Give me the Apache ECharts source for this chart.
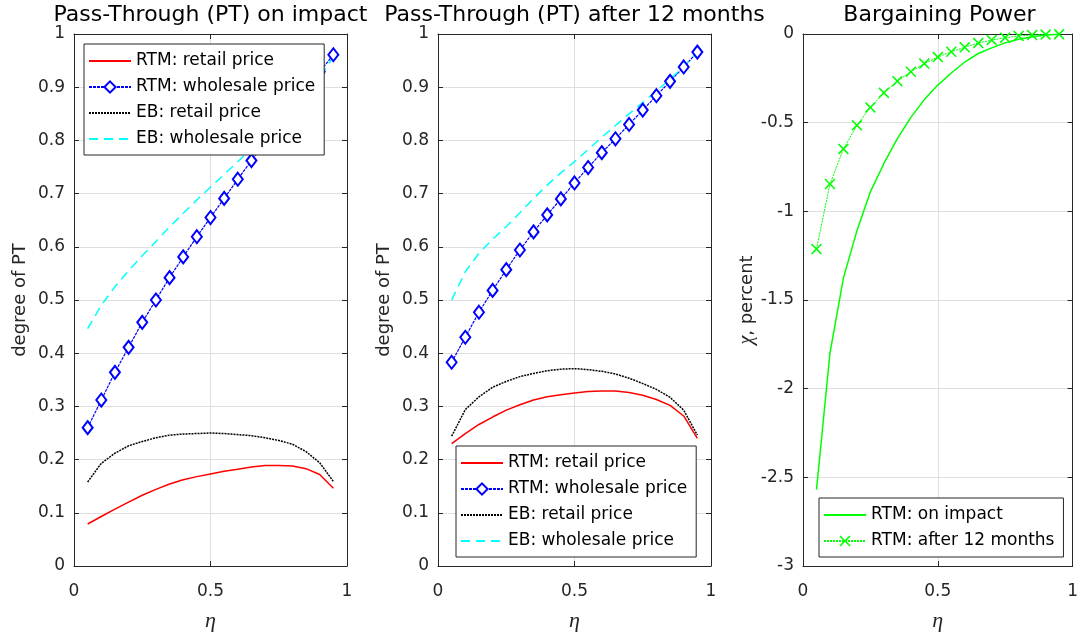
<!DOCTYPE html>
<html>
<head>
<meta charset="utf-8">
<title>Pass-Through and Bargaining Power</title>
<script src="https://cdn.jsdelivr.net/npm/echarts@6/dist/echarts.min.js"></script>
<style>
  html, body { margin: 0; padding: 0; background: #fff; }
  #chart { width: 1081px; height: 637px; }
</style>
</head>
<body>
<div id="chart"></div>
<script>
// eta grid (x values)
var eta = [0.05, 0.1, 0.15, 0.2, 0.25, 0.3, 0.35, 0.4, 0.45, 0.5,
  0.55, 0.6, 0.65, 0.7, 0.75, 0.8, 0.85, 0.9, 0.95]

// pass-through on impact
var rtmRetailImpact = [0.079, 0.093, 0.107, 0.120, 0.133, 0.144, 0.154, 0.162, 0.168, 0.173,
  0.178, 0.182, 0.186, 0.189, 0.189, 0.188, 0.183, 0.172, 0.146]
var rtmWholesaleImpact = [0.260, 0.312, 0.364, 0.411, 0.458, 0.500, 0.542, 0.581, 0.619, 0.655,
  0.691, 0.727, 0.762, 0.796, 0.830, 0.864, 0.897, 0.929, 0.961]
var ebRetailImpact = [0.158, 0.193, 0.212, 0.226, 0.234, 0.241, 0.246, 0.248, 0.249, 0.250,
  0.249, 0.247, 0.245, 0.241, 0.236, 0.229, 0.215, 0.194, 0.159]
var ebWholesaleImpact = [0.446, 0.490, 0.525, 0.555, 0.583, 0.610, 0.637, 0.663, 0.688, 0.712,
  0.736, 0.760, 0.785, 0.810, 0.835, 0.860, 0.887, 0.917, 0.958]

// pass-through after 12 months
var rtmRetail12m = [0.230, 0.249, 0.266, 0.280, 0.293, 0.303, 0.312, 0.318, 0.322, 0.325,
  0.328, 0.329, 0.329, 0.326, 0.321, 0.313, 0.302, 0.282, 0.240]
var rtmWholesale12m = [0.383, 0.430, 0.477, 0.518, 0.557, 0.594, 0.628, 0.660, 0.690, 0.720,
  0.749, 0.777, 0.803, 0.830, 0.857, 0.884, 0.911, 0.938, 0.966]
var ebRetail12m = [0.244, 0.294, 0.318, 0.336, 0.347, 0.356, 0.362, 0.367, 0.370, 0.371,
  0.369, 0.366, 0.361, 0.353, 0.343, 0.332, 0.317, 0.293, 0.246]
var ebWholesale12m = [0.500, 0.553, 0.588, 0.614, 0.638, 0.664, 0.691, 0.716, 0.739, 0.760,
  0.783, 0.806, 0.828, 0.850, 0.871, 0.893, 0.915, 0.939, 0.966]

// bargaining power (chi, percent)
var chiImpact = [-2.569, -1.80, -1.375, -1.11, -0.89, -0.73, -0.59, -0.47, -0.37, -0.288,
  -0.22, -0.158, -0.11, -0.078, -0.05, -0.03, -0.016, -0.006, -0.001]
var chi12m = [-1.213, -0.846, -0.648, -0.515, -0.414, -0.332, -0.266, -0.213, -0.167, -0.130,
  -0.100, -0.075, -0.051, -0.034, -0.021, -0.011, -0.006, -0.003, -0.001]

var titles = ['Pass-Through (PT) on impact', 'Pass-Through (PT) after 12 months', 'Bargaining Power']
var ptNames = ['RTM: retail price', 'RTM: wholesale price', 'EB: retail price', 'EB: wholesale price']
var chiNames = ['RTM: on impact', 'RTM: after 12 months']
// series drawn without markers (legend shows a plain line for these)
var noMarker = ['RTM: retail price', 'EB: retail price', 'EB: wholesale price', 'RTM: on impact']

function pairs(ys) {
  return eta.map(function (x, i) { return [x, ys[i]] })
}

var font = 'DejaVu Sans'
var axisColor = '#262626'
var gridLeft = [74, 438, 803]
var crossPath = 'path://M0,1L1,0L5,4L9,0L10,1L6,5L10,9L9,10L5,6L1,10L0,9L4,5Z'

var xAxes = []
var yAxes = []
gridLeft.forEach(function (l, g) {
  xAxes.push({
    type: 'value', gridIndex: g, min: 0, max: 1, interval: 0.5,
    name: 'η', nameLocation: 'middle', nameGap: 44,
    nameTextStyle: { fontFamily: 'Liberation Serif', fontStyle: 'italic', fontSize: 22, color: axisColor },
    axisLine: { onZero: false, lineStyle: { color: axisColor } },
    axisTick: { inside: true, length: 5, lineStyle: { color: axisColor } },
    axisLabel: { fontFamily: font, fontSize: 17, color: axisColor, margin: 17 },
    splitLine: { show: true, lineStyle: { color: '#dfdfdf' } }
  })
  xAxes.push({
    type: 'value', gridIndex: g, position: 'top', min: 0, max: 1, interval: 0.5,
    axisLine: { onZero: false, lineStyle: { color: axisColor } },
    axisTick: { inside: true, length: 5, lineStyle: { color: axisColor } },
    axisLabel: { show: false }, splitLine: { show: false }
  })
  var isChi = g === 2
  yAxes.push({
    type: 'value', gridIndex: g,
    min: isChi ? -3 : 0, max: isChi ? 0 : 1, interval: isChi ? 0.5 : 0.1,
    name: isChi ? '{g|χ}{s|, percent}' : 'degree of PT',
    nameLocation: 'middle', nameGap: isChi ? 46 : 45,
    nameTextStyle: {
      fontFamily: font, fontSize: 18, color: axisColor,
      rich: {
        g: { fontFamily: 'Liberation Serif', fontStyle: 'italic', fontSize: 20, color: axisColor },
        s: { fontFamily: font, fontSize: 18, color: axisColor }
      }
    },
    axisLine: { show: true, onZero: false, lineStyle: { color: axisColor } },
    axisTick: { show: true, inside: true, length: 5, lineStyle: { color: axisColor } },
    axisLabel: { fontFamily: font, fontSize: 17, color: axisColor, margin: 9 },
    splitLine: { show: true, lineStyle: { color: '#dfdfdf' } }
  })
  yAxes.push({
    type: 'value', gridIndex: g, position: 'right',
    min: isChi ? -3 : 0, max: isChi ? 0 : 1, interval: isChi ? 0.5 : 0.1,
    axisLine: { show: true, onZero: false, lineStyle: { color: axisColor } },
    axisTick: { show: true, inside: true, length: 5, lineStyle: { color: axisColor } },
    axisLabel: { show: false }, splitLine: { show: false }
  })
})

function ptSeries(panel, vals) {
  var xi = panel * 2
  var yi = panel * 2
  return [
    { name: ptNames[0], type: 'line', xAxisIndex: xi, yAxisIndex: yi, data: pairs(vals[0]),
      symbol: 'none', lineStyle: { color: '#ff0000', width: 1.5 }, itemStyle: { color: '#ff0000' } },
    { name: ptNames[1], type: 'line', xAxisIndex: xi, yAxisIndex: yi, data: pairs(vals[1]),
      symbol: 'emptyDiamond', symbolSize: [10, 13],
      lineStyle: { color: '#0000ff', width: 1.2, type: [3, 1] },
      itemStyle: { color: '#0000ff', borderWidth: 1.5 } },
    { name: ptNames[2], type: 'line', xAxisIndex: xi, yAxisIndex: yi, data: pairs(vals[2]),
      symbol: 'none', lineStyle: { color: '#000000', width: 1.5, type: [2, 1] }, itemStyle: { color: '#000000' } },
    { name: ptNames[3], type: 'line', xAxisIndex: xi, yAxisIndex: yi, data: pairs(vals[3]),
      symbol: 'none', lineStyle: { color: '#00ffff', width: 1.5, type: [9, 6] }, itemStyle: { color: '#00ffff' } }
  ]
}

var series = []
  .concat(ptSeries(0, [rtmRetailImpact, rtmWholesaleImpact, ebRetailImpact, ebWholesaleImpact]))
  .concat(ptSeries(1, [rtmRetail12m, rtmWholesale12m, ebRetail12m, ebWholesale12m]))
  .concat([
    { name: chiNames[0], type: 'line', xAxisIndex: 4, yAxisIndex: 4, data: pairs(chiImpact),
      symbol: 'none', lineStyle: { color: '#00ff00', width: 1.5 }, itemStyle: { color: '#00ff00' } },
    { name: chiNames[1], type: 'line', xAxisIndex: 4, yAxisIndex: 4, data: pairs(chi12m),
      symbol: crossPath, symbolSize: 11,
      lineStyle: { color: '#00ff00', width: 1, type: [2, 1] }, itemStyle: { color: '#00ff00' } }
  ])

function legendBox(names, left, top) {
  return {
    data: names.map(function (n) {
      if (noMarker.indexOf(n) < 0) return { name: n }
      return { name: n, itemStyle: { color: 'rgba(0,0,0,0)', borderColor: 'rgba(0,0,0,0)', borderWidth: 0, opacity: 0 } }
    }),
    orient: 'vertical', left: left, top: top,
    selectedMode: false, itemWidth: 42, itemHeight: 14, itemGap: 6,
    padding: [7, 9, 6, 4],
    backgroundColor: '#ffffff', borderColor: '#262626', borderWidth: 1, borderRadius: 0,
    textStyle: { fontFamily: font, fontSize: 17, color: '#000', lineHeight: 20 }
  }
}

var chart = echarts.init(document.getElementById('chart'))
chart.setOption({
  animation: false,
  backgroundColor: '#ffffff',
  title: titles.map(function (t, i) {
    return {
      text: t, left: gridLeft[i] + 136.5, top: 4, textAlign: 'center', padding: 0,
      textStyle: { fontFamily: font, fontSize: 22, fontWeight: 'normal', color: '#000' }
    }
  }),
  grid: gridLeft.map(function (l) {
    return { left: l, width: 273, top: 34, height: 532 }
  }),
  legend: [
    legendBox(ptNames, 84, 44),
    legendBox(ptNames, 456, 446),
    legendBox(chiNames, 819, 498)
  ],
  xAxis: xAxes,
  yAxis: yAxes,
  series: series
})
</script>
</body>
</html>
